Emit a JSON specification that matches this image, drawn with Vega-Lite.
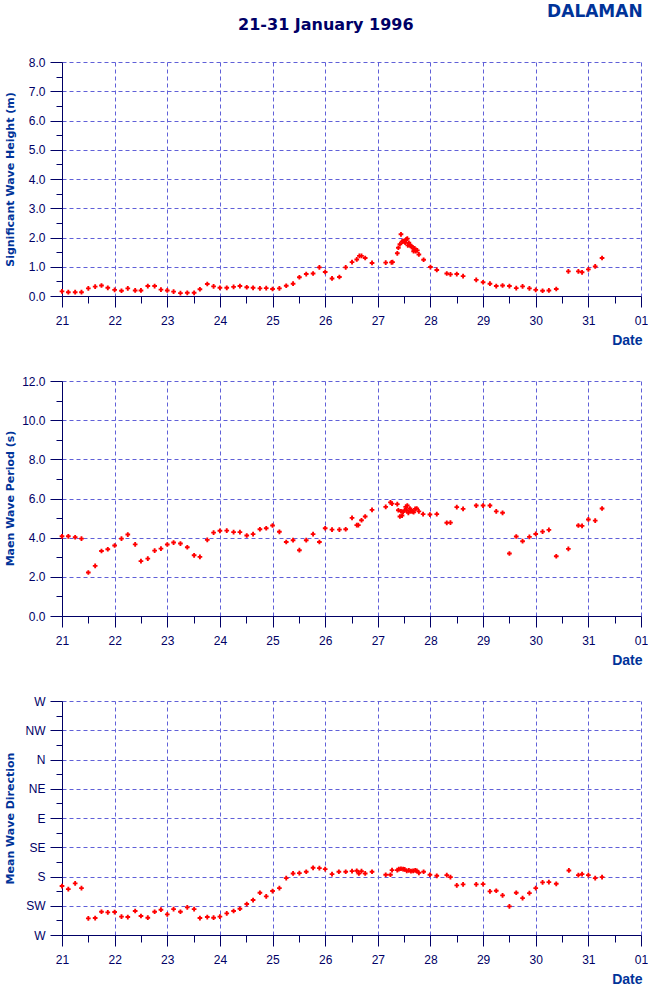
{
  "$schema": "https://vega.github.io/schema/vega-lite/v6.json",
  "padding": {"left": 3, "top": 3, "right": 0, "bottom": 0},
  "background": "white",
  "title": {"text": "DALAMAN", "anchor": "end", "frame": "bounds", "font": "DejaVu Sans", "fontSize": 17, "fontWeight": "bold", "color": "#003399", "offset": 0, "dx": -5, "dy": 4},
  "config": {
    "view": {"stroke": null},
    "axis": {
      "domainColor": "#000066", "tickColor": "#000066", "labelColor": "#000066",
      "labelFont": "Liberation Sans", "labelFontSize": 12,
      "titleFont": "DejaVu Sans", "titleFontWeight": "bold", "titleColor": "#003399",
      "gridColor": "#6060d8", "gridDash": [4, 3], "gridWidth": 1,
      "labelFlush": false, "labelOverlap": false, "labelBound": false
    }
  },
  "bounds": "flush",
  "spacing": 85,
  "datasets": {
    "hs": [
      {"t":21.0,"v":0.16},{"t":21.12,"v":0.13},{"t":21.25,"v":0.13},{"t":21.37,"v":0.13},{"t":21.5,"v":0.26},{"t":21.63,"v":0.32},{"t":21.75,"v":0.36},{"t":21.87,"v":0.28},
      {"t":22.0,"v":0.21},{"t":22.13,"v":0.18},{"t":22.25,"v":0.26},{"t":22.39,"v":0.19},{"t":22.5,"v":0.19},{"t":22.63,"v":0.34},{"t":22.76,"v":0.34},{"t":22.88,"v":0.22},
      {"t":23.0,"v":0.19},{"t":23.12,"v":0.15},{"t":23.25,"v":0.10},{"t":23.38,"v":0.11},{"t":23.51,"v":0.11},{"t":23.62,"v":0.23},{"t":23.76,"v":0.41},{"t":23.88,"v":0.33},
      {"t":24.0,"v":0.28},{"t":24.13,"v":0.28},{"t":24.26,"v":0.31},{"t":24.38,"v":0.34},{"t":24.51,"v":0.30},{"t":24.63,"v":0.28},{"t":24.76,"v":0.26},{"t":24.88,"v":0.27},
      {"t":25.0,"v":0.24},{"t":25.13,"v":0.26},{"t":25.26,"v":0.35},{"t":25.39,"v":0.42},{"t":25.51,"v":0.64},{"t":25.64,"v":0.75},{"t":25.77,"v":0.77},{"t":25.89,"v":0.98},
      {"t":26.0,"v":0.82},{"t":26.13,"v":0.60},{"t":26.27,"v":0.65},{"t":26.39,"v":0.98},{"t":26.51,"v":1.16},{"t":26.6,"v":1.25},{"t":26.65,"v":1.37},{"t":26.69,"v":1.37},{"t":26.76,"v":1.30},{"t":26.89,"v":1.13},
      {"t":27.15,"v":1.14},{"t":27.26,"v":1.15},{"t":27.28,"v":1.16},{"t":27.37,"v":1.46},{"t":27.39,"v":1.65},{"t":27.42,"v":1.77},{"t":27.44,"v":2.11},{"t":27.46,"v":1.86},{"t":27.48,"v":1.88},{"t":27.51,"v":1.87},
      {"t":27.52,"v":1.82},{"t":27.54,"v":1.94},{"t":27.56,"v":1.96},{"t":27.57,"v":1.73},{"t":27.59,"v":1.82},{"t":27.61,"v":1.74},{"t":27.62,"v":1.71},{"t":27.64,"v":1.71},{"t":27.67,"v":1.62},{"t":27.68,"v":1.53},
      {"t":27.70,"v":1.63},{"t":27.72,"v":1.53},{"t":27.75,"v":1.56},{"t":27.78,"v":1.42},{"t":27.87,"v":1.24},
      {"t":28.0,"v":0.99},{"t":28.12,"v":0.89},{"t":28.31,"v":0.77},{"t":28.38,"v":0.74},{"t":28.5,"v":0.75},{"t":28.62,"v":0.68},{"t":28.87,"v":0.55},
      {"t":29.0,"v":0.47},{"t":29.13,"v":0.42},{"t":29.25,"v":0.34},{"t":29.37,"v":0.36},{"t":29.5,"v":0.34},{"t":29.63,"v":0.27},{"t":29.75,"v":0.33},{"t":29.88,"v":0.26},
      {"t":30.0,"v":0.21},{"t":30.13,"v":0.18},{"t":30.25,"v":0.19},{"t":30.39,"v":0.24},{"t":30.62,"v":0.84},{"t":30.81,"v":0.84},{"t":30.88,"v":0.81},
      {"t":31.0,"v":0.91},{"t":31.13,"v":1.01},{"t":31.26,"v":1.30}
    ],
    "tm": [
      {"t":21.0,"v":4.07},{"t":21.12,"v":4.07},{"t":21.25,"v":4.02},{"t":21.37,"v":3.95},{"t":21.5,"v":2.22},{"t":21.63,"v":2.56},{"t":21.75,"v":3.32},{"t":21.87,"v":3.41},
      {"t":22.0,"v":3.60},{"t":22.13,"v":3.95},{"t":22.25,"v":4.16},{"t":22.39,"v":3.66},{"t":22.5,"v":2.80},{"t":22.63,"v":2.93},{"t":22.76,"v":3.34},{"t":22.88,"v":3.44},
      {"t":23.0,"v":3.65},{"t":23.12,"v":3.75},{"t":23.25,"v":3.70},{"t":23.38,"v":3.51},{"t":23.51,"v":3.10},{"t":23.62,"v":3.02},{"t":23.76,"v":3.89},{"t":23.88,"v":4.26},
      {"t":24.0,"v":4.35},{"t":24.13,"v":4.36},{"t":24.26,"v":4.28},{"t":24.38,"v":4.28},{"t":24.51,"v":4.11},{"t":24.63,"v":4.18},{"t":24.76,"v":4.43},{"t":24.88,"v":4.48},
      {"t":25.0,"v":4.62},{"t":25.13,"v":4.30},{"t":25.26,"v":3.78},{"t":25.39,"v":3.87},{"t":25.51,"v":3.36},{"t":25.64,"v":3.87},{"t":25.77,"v":4.18},{"t":25.89,"v":3.78},
      {"t":26.0,"v":4.48},{"t":26.13,"v":4.41},{"t":26.27,"v":4.41},{"t":26.39,"v":4.43},{"t":26.51,"v":5.01},{"t":26.6,"v":4.64},{"t":26.63,"v":4.64},{"t":26.69,"v":4.89},{"t":26.76,"v":5.08},{"t":26.89,"v":5.42},
      {"t":27.15,"v":5.57},{"t":27.24,"v":5.80},{"t":27.27,"v":5.74},{"t":27.37,"v":5.71},{"t":27.39,"v":5.40},{"t":27.42,"v":5.08},{"t":27.44,"v":5.35},{"t":27.46,"v":5.13},{"t":27.48,"v":5.32},{"t":27.51,"v":5.39},
      {"t":27.53,"v":5.57},{"t":27.55,"v":5.40},{"t":27.56,"v":5.64},{"t":27.58,"v":5.27},{"t":27.61,"v":5.49},{"t":27.63,"v":5.35},{"t":27.66,"v":5.34},{"t":27.68,"v":5.30},{"t":27.71,"v":5.47},{"t":27.74,"v":5.49},
      {"t":27.78,"v":5.34},{"t":27.86,"v":5.20},{"t":27.99,"v":5.18},{"t":28.12,"v":5.20},{"t":28.31,"v":4.76},{"t":28.38,"v":4.77},{"t":28.5,"v":5.56},{"t":28.62,"v":5.47},{"t":28.87,"v":5.64},
      {"t":29.0,"v":5.64},{"t":29.13,"v":5.64},{"t":29.25,"v":5.34},{"t":29.37,"v":5.27},{"t":29.5,"v":3.19},{"t":29.63,"v":4.06},{"t":29.75,"v":3.82},{"t":29.88,"v":4.04},
      {"t":30.0,"v":4.19},{"t":30.13,"v":4.31},{"t":30.25,"v":4.40},{"t":30.39,"v":3.05},{"t":30.62,"v":3.43},{"t":30.81,"v":4.62},{"t":30.88,"v":4.60},
      {"t":31.0,"v":4.93},{"t":31.13,"v":4.87},{"t":31.26,"v":5.49}
    ],
    "dir": [
      {"t":21.0,"v":194.7},{"t":21.12,"v":199.4},{"t":21.25,"v":190.6},{"t":21.37,"v":197.8},{"t":21.5,"v":244.4},{"t":21.63,"v":243.9},{"t":21.75,"v":234.2},{"t":21.87,"v":235.2},
      {"t":22.0,"v":234.7},{"t":22.13,"v":241.8},{"t":22.25,"v":242.4},{"t":22.39,"v":233.1},{"t":22.5,"v":240.8},{"t":22.63,"v":243.4},{"t":22.76,"v":234.2},{"t":22.88,"v":231.1},
      {"t":23.0,"v":238.3},{"t":23.12,"v":230.1},{"t":23.25,"v":234.2},{"t":23.38,"v":227.5},{"t":23.51,"v":230.1},{"t":23.62,"v":243.9},{"t":23.76,"v":242.4},{"t":23.88,"v":243.4},
      {"t":24.0,"v":241.8},{"t":24.13,"v":236.7},{"t":24.26,"v":233.1},{"t":24.38,"v":229.6},{"t":24.51,"v":222.4},{"t":24.63,"v":216.2},{"t":24.76,"v":205.0},{"t":24.88,"v":210.6},
      {"t":25.0,"v":202.4},{"t":25.13,"v":197.8},{"t":25.26,"v":182.5},{"t":25.39,"v":175.3},{"t":25.51,"v":174.8},{"t":25.64,"v":172.7},{"t":25.77,"v":166.6},{"t":25.89,"v":167.1},
      {"t":26.0,"v":168.6},{"t":26.13,"v":176.3},{"t":26.26,"v":172.7},{"t":26.39,"v":172.7},{"t":26.51,"v":171.7},{"t":26.6,"v":171.2},{"t":26.64,"v":175.3},{"t":26.69,"v":171.7},{"t":26.76,"v":175.3},{"t":26.89,"v":172.7},
      {"t":27.15,"v":177.3},{"t":27.24,"v":177.3},{"t":27.27,"v":170.2},{"t":27.37,"v":170.2},{"t":27.4,"v":168.6},{"t":27.44,"v":168.1},{"t":27.48,"v":168.6},{"t":27.51,"v":169.1},{"t":27.55,"v":171.2},{"t":27.59,"v":170.7},
      {"t":27.63,"v":171.7},{"t":27.67,"v":171.2},{"t":27.71,"v":170.7},{"t":27.74,"v":171.2},{"t":27.78,"v":174.3},{"t":27.87,"v":172.7},{"t":27.99,"v":177.3},
      {"t":28.12,"v":178.9},{"t":28.31,"v":177.9},{"t":28.38,"v":181.0},{"t":28.5,"v":193.7},{"t":28.62,"v":192.2},{"t":28.87,"v":192.2},
      {"t":29.0,"v":191.7},{"t":29.13,"v":202.9},{"t":29.25,"v":201.9},{"t":29.37,"v":209.1},{"t":29.5,"v":226.0},{"t":29.63,"v":205.0},{"t":29.75,"v":213.2},{"t":29.88,"v":205.5},
      {"t":30.0,"v":197.8},{"t":30.13,"v":189.1},{"t":30.25,"v":188.6},{"t":30.39,"v":191.2},{"t":30.63,"v":170.7},{"t":30.81,"v":177.9},{"t":30.88,"v":176.3},
      {"t":31.0,"v":177.9},{"t":31.13,"v":182.5},{"t":31.26,"v":181.0}
    ]
  },
  "vconcat": [
    {
      "title": {"text": "21-31 January 1996", "anchor": "middle", "frame": "bounds", "font": "DejaVu Sans", "fontSize": 16, "fontWeight": "bold", "color": "#000066", "offset": 23},
      "width": 579, "height": 234,
      "data": {"name": "hs"},
      "mark": {"type": "point", "shape": "cross", "filled": true, "color": "#ff0000", "size": 22, "opacity": 1, "clip": false},
      "encoding": {
        "x": {"field": "t", "type": "quantitative", "scale": {"domain": [21, 32], "nice": false, "zero": false},
          "axis": {"title": "Date", "titleFont": "Liberation Sans", "titleFontSize": 14, "titleX": 580, "titleY": 48, "titleAlign": "right", "titleBaseline": "alphabetic", "titleAnchor": "end",
            "values": [21,21.5,22,22.5,23,23.5,24,24.5,25,25.5,26,26.5,27,27.5,28,28.5,29,29.5,30,30.5,31,31.5,32],
            "labelExpr": "datum.value % 1 != 0 ? '' : (datum.value == 32 ? '01' : format(datum.value, 'd'))",
            "tickSize": {"condition": {"test": "datum.value % 1 == 0", "value": 11}, "value": 7},
            "gridOpacity": {"condition": {"test": "datum.value % 1 == 0", "value": 1}, "value": 0},
            "labelPadding": 8, "grid": true}},
        "y": {"field": "v", "type": "quantitative", "scale": {"domain": [0, 8], "nice": false},
          "axis": {"title": "Significant Wave Height (m)", "titleFontSize": 11, "titleX": -47, "titleY": 117, "titleAngle": -90, "titleAlign": "center", "titleBaseline": "bottom",
            "values": [0,0.5,1,1.5,2,2.5,3,3.5,4,4.5,5,5.5,6,6.5,7,7.5,8],
            "labelExpr": "datum.value % 1 != 0 ? '' : format(datum.value, '.1f')",
            "tickSize": {"condition": {"test": "datum.value % 1 == 0", "value": 12}, "value": 6},
            "gridOpacity": {"condition": {"test": "datum.value % 1 == 0", "value": 1}, "value": 0},
            "labelPadding": 5, "grid": true}}
      }
    },
    {
      "width": 579, "height": 235,
      "data": {"name": "tm"},
      "mark": {"type": "point", "shape": "cross", "filled": true, "color": "#ff0000", "size": 22, "opacity": 1, "clip": false},
      "encoding": {
        "x": {"field": "t", "type": "quantitative", "scale": {"domain": [21, 32], "nice": false, "zero": false},
          "axis": {"title": "Date", "titleFont": "Liberation Sans", "titleFontSize": 14, "titleX": 580, "titleY": 48, "titleAlign": "right", "titleBaseline": "alphabetic", "titleAnchor": "end",
            "values": [21,21.5,22,22.5,23,23.5,24,24.5,25,25.5,26,26.5,27,27.5,28,28.5,29,29.5,30,30.5,31,31.5,32],
            "labelExpr": "datum.value % 1 != 0 ? '' : (datum.value == 32 ? '01' : format(datum.value, 'd'))",
            "tickSize": {"condition": {"test": "datum.value % 1 == 0", "value": 11}, "value": 7},
            "gridOpacity": {"condition": {"test": "datum.value % 1 == 0", "value": 1}, "value": 0},
            "labelPadding": 8, "grid": true}},
        "y": {"field": "v", "type": "quantitative", "scale": {"domain": [0, 12], "nice": false},
          "axis": {"title": "Maen Wave Period (s)", "titleFontSize": 11, "titleX": -47, "titleY": 117, "titleAngle": -90, "titleAlign": "center", "titleBaseline": "bottom",
            "values": [0,1,2,3,4,5,6,7,8,9,10,11,12],
            "labelExpr": "datum.value % 2 != 0 ? '' : format(datum.value, '.1f')",
            "tickSize": {"condition": {"test": "datum.value % 2 == 0", "value": 12}, "value": 6},
            "gridOpacity": {"condition": {"test": "datum.value % 2 == 0", "value": 1}, "value": 0},
            "labelPadding": 5, "grid": true}}
      }
    },
    {
      "width": 579, "height": 234,
      "data": {"name": "dir"},
      "mark": {"type": "point", "shape": "cross", "filled": true, "color": "#ff0000", "size": 22, "opacity": 1, "clip": false},
      "encoding": {
        "x": {"field": "t", "type": "quantitative", "scale": {"domain": [21, 32], "nice": false, "zero": false},
          "axis": {"title": "Date", "titleFont": "Liberation Sans", "titleFontSize": 14, "titleX": 580, "titleY": 48, "titleAlign": "right", "titleBaseline": "alphabetic", "titleAnchor": "end",
            "values": [21,21.5,22,22.5,23,23.5,24,24.5,25,25.5,26,26.5,27,27.5,28,28.5,29,29.5,30,30.5,31,31.5,32],
            "labelExpr": "datum.value % 1 != 0 ? '' : (datum.value == 32 ? '01' : format(datum.value, 'd'))",
            "tickSize": {"condition": {"test": "datum.value % 1 == 0", "value": 11}, "value": 7},
            "gridOpacity": {"condition": {"test": "datum.value % 1 == 0", "value": 1}, "value": 0},
            "labelPadding": 8, "grid": true}},
        "y": {"field": "v", "type": "quantitative", "scale": {"domain": [-90, 270], "nice": false, "zero": false, "reverse": true},
          "axis": {"title": "Mean Wave Direction", "titleFontSize": 11, "titleX": -47, "titleY": 117, "titleAngle": -90, "titleAlign": "center", "titleBaseline": "bottom",
            "values": [-90,-67.5,-45,-22.5,0,22.5,45,67.5,90,112.5,135,157.5,180,202.5,225,247.5,270],
            "labelExpr": "datum.value == 270 || datum.value == -90 ? 'W' : datum.value == 225 ? 'SW' : datum.value == 180 ? 'S' : datum.value == 135 ? 'SE' : datum.value == 90 ? 'E' : datum.value == 45 ? 'NE' : datum.value == 0 ? 'N' : datum.value == -45 ? 'NW' : ''",
            "tickSize": {"condition": {"test": "datum.value % 45 == 0", "value": 12}, "value": 6},
            "gridOpacity": {"condition": {"test": "datum.value % 45 == 0", "value": 1}, "value": 0},
            "labelPadding": 5, "grid": true}}
      }
    }
  ]
}
